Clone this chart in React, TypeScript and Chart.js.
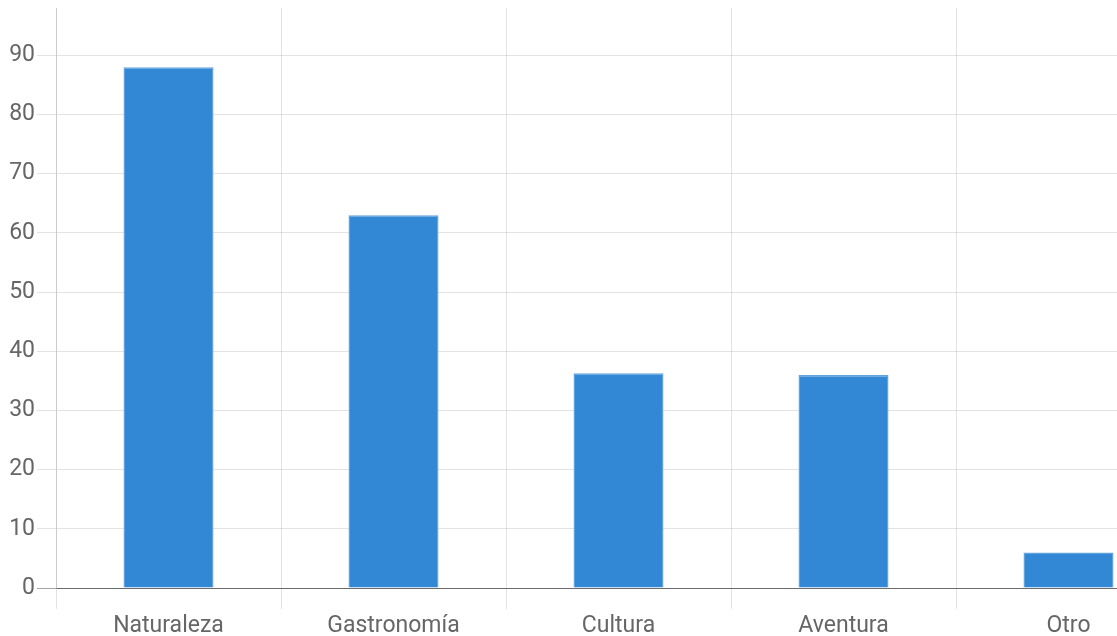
import React, { useEffect, useRef } from "react";
import { Chart, registerables } from "chart.js";

Chart.register(...registerables);

const categories: string[] = ["Naturaleza", "Gastronomía", "Cultura", "Aventura", "Otro"];
const values: number[] = [88, 63, 36.3, 36, 6];
const yTickValues: number[] = [0, 10, 20, 30, 40, 50, 60, 70, 80, 90];

const FONT = "'Liberation Sans Narrow', 'Roboto', sans-serif";

export default function App() {
  const ref = useRef<HTMLCanvasElement | null>(null);

  useEffect(() => {
    if (!ref.current) return;
    const chart = new Chart(ref.current, {
      type: "bar",
      data: {
        labels: categories,
        datasets: [
          {
            data: values,
            backgroundColor: "#3388d5",
            borderColor: "#62a4e0",
            borderWidth: 1.5,
            barPercentage: 0.5,
            categoryPercentage: 0.8,
          },
        ],
      },
      options: {
        responsive: false,
        animation: false,
        devicePixelRatio: 1,
        layout: { padding: 0 },
        plugins: { legend: { display: false }, tooltip: { enabled: false } },
        scales: {
          x: {
            offset: true,
            grid: {
              offset: true,
              color: "rgba(0,0,0,0.11)",
              tickLength: 21,
            },
            border: { color: "rgba(0,0,0,0.35)" },
            ticks: {
              padding: 3,
              color: "#666",
              font: { family: FONT, size: 23 },
              maxRotation: 0,
            },
            afterFit: (scale: any) => {
              scale.height = 60;
              scale.paddingLeft = 0;
              scale.paddingRight = 0;
            },
          },
          y: {
            min: 0,
            max: 98,
            grid: {
              color: (ctx: any) =>
                ctx.tick && ctx.tick.value === 0 ? "rgba(0,0,0,0.35)" : "rgba(0,0,0,0.11)",
              tickLength: 19,
            },
            border: { color: "rgba(0,0,0,0.11)" },
            afterBuildTicks: (scale: any) => {
              scale.ticks = yTickValues.map((v) => ({ value: v }));
            },
            ticks: {
              padding: 2,
              color: "#666",
              font: { family: FONT, size: 23 },
            },
            afterFit: (scale: any) => {
              scale.width = 48;
              scale.paddingTop = 0;
              scale.paddingBottom = 0;
            },
          },
        },
      },
    });
    return () => chart.destroy();
  }, []);

  return (
    <div
      style={{
        position: "absolute",
        left: 8,
        top: 8,
        width: 1109,
        height: 628,
        overflow: "hidden",
      }}
    >
      <canvas ref={ref} width={1173} height={640} style={{ display: "block" }} />
    </div>
  );
}
